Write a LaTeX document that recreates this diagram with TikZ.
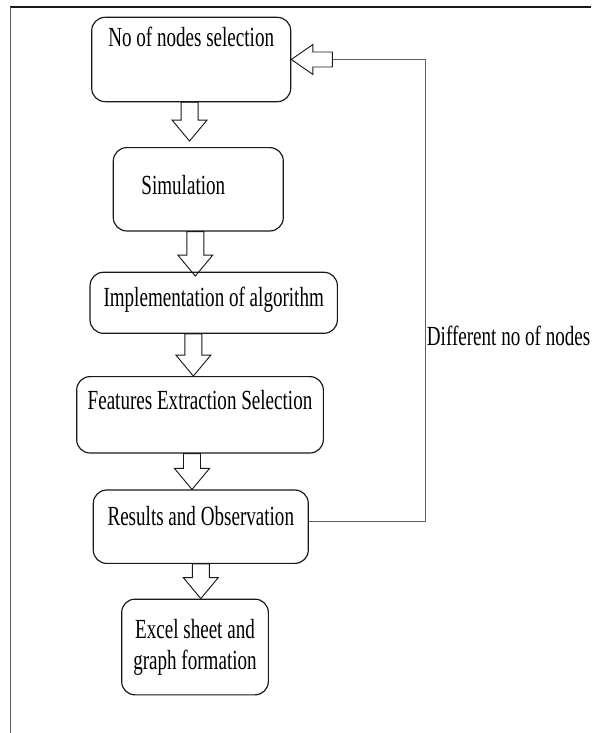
\documentclass[tikz,border=0pt]{standalone}
\usepackage{fontspec}
\setmainfont{Liberation Serif}[FakeStretch=0.69]
\usetikzlibrary{calc,positioning}
\definecolor{ink}{RGB}{25,25,25}
\definecolor{wire}{RGB}{95,95,95}
\tikzset{
  box/.style={draw=ink,line width=1pt,rounded corners=4mm,inner sep=0pt,
    minimum width=#1,align=center,font=\fontsize{23.6pt}{26.5pt}\selectfont},
  lift/.style={text height=6mm,text depth=#1},
  note/.style={inner sep=0pt,font=\fontsize{23.6pt}{26.5pt}\selectfont},
  % block arrows
  hollow/.style={draw=ink,line width=0.8pt,to path={
    let \p1=(\tikztostart), \p2=(\tikztotarget) in
    (\x1-2.55mm,\y1) -- (\x1-2.55mm,\y2+6.3mm) -- (\x1-5.25mm,\y2+6.3mm) -- (\x1,\y2)
    -- (\x1+5.25mm,\y2+6.3mm) -- (\x1+2.55mm,\y2+6.3mm) -- (\x1+2.55mm,\y1) -- cycle}},
  hollow left/.style={draw=ink,line width=0.8pt,to path={
    let \p1=(\tikztostart), \p2=(\tikztotarget) in
    (\x1,\y1+2.25mm) -- (\x2+6.5mm,\y1+2.25mm) -- (\x2+6.5mm,\y1+4.5mm) -- (\x2,\y1)
    -- (\x2+6.5mm,\y1-4.5mm) -- (\x2+6.5mm,\y1-2.25mm) -- (\x1,\y1-2.25mm) -- cycle}},
  feedback/.style={draw=wire,line width=1.2pt},
}

\begin{document}
\begin{tikzpicture}[x=0.3mm,y=-0.3mm]
  \useasboundingbox (0,0) rectangle (591,733);
  \draw[ink,line width=1.2pt] (10,7) -- (591,7);
  \draw[wire,line width=0.8pt] (10,7) -- (10,733);

  \node[box=59.7mm,minimum height=25.3mm,lift=13.7mm] (sel) at (191.2,59.5) {No of nodes selection};
  \node[box=51mm,minimum height=25mm,lift=3mm] (sim) at (198.3,189.3) {Simulation\hspace*{9mm}};
  \node[box=74.2mm,minimum height=18.3mm,lift=3.66mm] (impl) at (213.7,302.8) {Implementation of algorithm};
  \node[box=74mm,minimum height=22.9mm,lift=9.3mm] (feat) at (200,414.8) {Features Extraction Selection};
  \node[box=64.5mm,minimum height=22mm,lift=7mm] (res) at (200.8,526.7) {Results and Observation};
  \node[box=44mm,minimum height=28.7mm] (xls) at (195,647) {Excel sheet and\\graph formation};

  \draw[hollow] ([xshift=-0.5mm]sel.south) to ([yshift=1.8mm]sim.north);
  \draw[hollow] ([xshift=-0.9mm]sim.south) to ([yshift=-1.3mm]impl.north);
  \draw[hollow] ([xshift=-6.1mm]impl.south) to (feat.north);
  \draw[hollow] ([xshift=-2.4mm]feat.south) to (res.north);
  \draw[hollow] (res.south) to (xls.north);

  % loop back
  \coordinate (bend) at (425.7,59.5);
  \coordinate (tail) at (332.3,59.5);
  \draw[feedback] ([yshift=1.5mm]res.east) -| (bend) -- (tail);
  \draw[hollow left] (tail) to (sel.east);
  \node[note,anchor=base west] (diff) at (426.7,345) {Different no of nodes};
\end{tikzpicture}
\end{document}
